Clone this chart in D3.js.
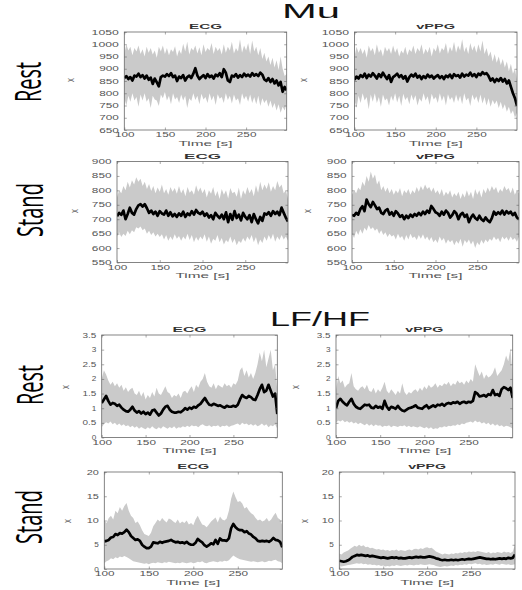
<!DOCTYPE html>
<html><head><meta charset="utf-8">
<script src="https://cdn.jsdelivr.net/npm/d3@7"></script>
<style>body{margin:0;background:#fff}svg{display:block}</style>
</head><body>
<svg id="c" width="522" height="590"></svg>
<script>
// ---------- data ----------
const timeDomain = [100, 300];
const xTicks = [100, 150, 200, 250];
const muRestTicks = [650, 700, 750, 800, 850, 900, 950, 1000, 1050];
const muStandTicks = [550, 600, 650, 700, 750, 800, 850, 900];
const lfRestTicks = [0, 0.5, 1, 1.5, 2, 2.5, 3, 3.5];
const lfStandTicks = [0, 5, 10, 15, 20];
const sectionTitles = ["Mu", "LF/HF"];
const rowLabels = ["Rest", "Stand"];
const signalTitles = ["ECG", "vPPG"];
const xLabel = "Time [s]";
const yLabel = "x";

// Mu, Rest, ECG
const muRestEcgMean = [862,870,858,866,852,872,868,880,866,874,
860,872,855,864,838,860,845,828,866,872,
868,878,870,882,866,872,850,868,862,874,
852,866,872,862,880,902,872,858,866,874,
862,878,866,872,860,876,870,882,866,898,
884,852,846,872,868,878,864,874,866,880,
870,876,868,882,872,878,870,884,876,856,
850,862,846,858,840,852,832,846,806,826,
812];
const muRestEcgUpper = [960,1000,975,990,955,985,970,995,960,980,
950,990,965,985,958,975,945,990,970,995,
960,985,955,980,968,992,950,978,960,1002,
970,1010,958,985,975,995,962,988,955,1000,
968,985,975,1005,960,990,972,985,958,1000,
965,990,975,1010,962,985,970,1020,965,995,
975,1005,960,1015,970,990,955,985,940,965,
930,950,915,945,905,935,895,950,900,870,
880];
const muRestEcgLower = [780,750,790,765,800,770,785,745,795,770,
800,765,780,740,790,775,770,748,795,780,
805,770,790,755,800,775,785,760,795,770,
790,740,780,768,800,772,790,755,798,775,
785,760,800,770,790,752,796,778,785,760,
800,772,790,758,795,770,780,752,800,775,
790,765,795,760,785,755,790,748,780,760,
775,745,770,740,760,730,755,720,745,730,
760];
// Mu, Rest, vPPG
const muRestPpgMean = [855,868,860,874,866,880,862,876,868,882,
872,860,878,866,884,870,858,874,846,866,
872,880,866,874,860,870,848,866,876,868,
880,864,872,858,870,862,876,866,872,860,
868,874,862,870,858,872,866,876,862,878,
870,874,864,880,868,876,872,884,870,878,
866,880,874,886,878,882,870,852,860,846,
858,850,862,848,858,840,852,826,800,780,
748];
const muRestPpgUpper = [950,990,965,985,960,980,945,995,970,985,
955,1000,965,980,950,990,970,985,960,995,
965,985,950,975,962,990,955,980,968,995,
960,985,970,1000,958,982,965,990,950,985,
970,1000,962,985,975,1005,960,990,970,1010,
965,995,975,1020,968,990,960,1005,975,995,
965,1000,970,1015,960,985,950,970,930,960,
925,950,915,940,905,930,890,920,880,900,
850];
const muRestPpgLower = [770,740,790,760,800,770,785,735,795,765,
800,760,785,745,795,770,780,750,790,768,
800,762,790,748,798,772,785,755,795,770,
792,750,780,765,800,770,788,752,798,775,
785,760,800,768,790,750,796,772,785,760,
795,765,790,755,800,770,782,748,795,772,
788,760,795,758,785,750,780,745,772,755,
770,740,765,735,755,725,745,715,730,700,
720];
// Mu, Stand, ECG
const muStandEcgMean = [710,722,715,730,700,718,740,722,716,735,
748,752,744,752,738,722,730,718,726,712,
728,720,716,730,712,724,710,718,708,720,
712,726,708,720,714,728,716,732,722,718,
726,712,720,706,714,700,722,712,704,716,
700,724,690,718,698,728,704,716,696,722,
708,700,714,690,718,700,686,708,694,720,
716,724,712,728,718,726,714,740,722,705,
692];
const muStandEcgUpper = [775,800,790,815,800,830,810,835,820,845,
830,840,815,830,805,822,798,815,790,810,
795,820,790,805,785,812,795,808,788,815,
790,805,780,812,792,800,785,818,795,810,
790,805,775,800,788,812,780,798,770,805,
785,800,772,808,790,795,778,810,770,800,
785,812,790,805,780,818,792,830,800,820,
805,828,795,815,800,832,810,820,790,800,
770];
const muStandEcgLower = [640,655,638,650,642,660,648,662,655,672,
668,675,662,668,650,660,645,655,640,650,
638,648,630,645,625,640,628,648,632,642,
625,640,630,650,628,645,620,638,625,640,
630,648,622,640,615,632,625,645,620,635,
612,628,620,640,618,632,610,625,618,635,
622,640,628,645,620,638,610,630,618,640,
625,645,630,650,622,640,628,645,630,640,
625];
// Mu, Stand, vPPG
const muStandPpgMean = [715,712,722,716,735,745,728,768,752,742,
760,748,735,740,722,718,730,735,716,724,
712,728,720,708,714,700,712,704,716,708,
718,712,722,714,726,718,730,722,746,736,
724,720,712,726,716,730,722,706,714,728,
720,700,716,722,708,716,690,706,716,704,
698,712,700,694,706,696,690,704,726,716,
724,718,730,716,728,720,726,714,722,706,
700];
const muStandPpgUpper = [785,800,790,810,800,830,815,850,830,865,
840,855,820,835,800,815,795,810,790,805,
785,800,790,808,780,800,790,805,785,800,
790,812,795,815,800,820,805,812,795,810,
790,800,785,805,780,795,785,800,775,790,
780,795,770,790,775,800,780,795,770,805,
785,800,775,805,790,810,795,815,800,812,
790,805,795,815,800,808,790,810,785,800,
790];
const muStandPpgLower = [650,635,660,645,665,650,670,660,680,665,
672,660,668,650,662,645,655,638,650,640,
645,630,650,635,642,625,645,630,650,635,
640,628,645,632,648,630,640,625,638,620,
630,618,640,625,635,615,630,620,628,610,
625,615,632,605,628,618,630,612,625,600,
620,610,628,615,630,620,632,625,640,628,
635,620,640,630,638,625,640,628,635,622,
640];
// LF/HF, Rest, ECG
const lfRestEcgMean = [1.18,1.30,1.42,1.25,1.12,1.18,1.15,1.08,1.12,1.02,
0.95,0.90,0.88,0.95,1.05,0.92,0.85,0.90,0.82,0.88,
0.80,0.85,0.78,0.92,0.95,0.85,0.75,0.82,0.95,1.05,
1.08,0.95,0.88,0.85,0.85,0.88,0.86,0.92,1.00,0.95,
1.02,0.98,1.05,1.02,1.10,1.15,1.25,1.35,1.22,1.12,
1.10,1.15,1.12,1.08,1.10,1.05,1.02,1.08,1.05,1.05,
1.08,1.05,1.12,1.30,1.45,1.38,1.35,1.42,1.38,1.30,
1.28,1.45,1.65,1.80,1.55,1.60,1.80,1.60,1.40,1.50,
0.80];
const lfRestEcgUpper = [2.00,2.30,2.15,1.95,1.80,1.90,1.75,1.85,1.70,1.80,
1.60,1.72,1.55,1.65,1.70,1.50,1.45,1.60,1.40,1.55,
1.30,1.45,1.35,1.55,1.40,1.70,1.50,1.45,1.60,1.75,
1.55,1.50,1.35,1.45,1.40,1.50,1.35,1.55,1.60,1.50,
1.65,1.75,1.55,1.80,1.70,1.90,2.00,2.20,1.90,1.75,
1.70,1.85,1.65,1.80,1.75,1.70,1.85,1.75,1.80,1.70,
1.85,1.80,1.95,2.30,2.40,2.10,2.30,2.05,2.20,2.00,
2.20,2.50,2.90,2.60,3.00,2.40,2.70,3.00,2.30,2.50,
1.60];
const lfRestEcgLower = [0.35,0.45,0.52,0.48,0.55,0.45,0.50,0.42,0.48,0.40,
0.45,0.38,0.42,0.35,0.40,0.33,0.38,0.30,0.36,0.32,
0.28,0.35,0.30,0.38,0.32,0.28,0.35,0.30,0.38,0.34,
0.30,0.36,0.32,0.38,0.30,0.35,0.33,0.38,0.35,0.40,
0.36,0.42,0.38,0.40,0.35,0.42,0.45,0.40,0.38,0.42,
0.36,0.40,0.38,0.42,0.35,0.40,0.38,0.42,0.36,0.40,
0.42,0.45,0.48,0.42,0.50,0.45,0.48,0.42,0.46,0.40,
0.45,0.38,0.42,0.48,0.40,0.45,0.35,0.42,0.38,0.45,
0.30];
// LF/HF, Rest, vPPG
const lfRestPpgMean = [1.00,1.25,1.32,1.22,1.15,1.10,1.22,1.32,1.15,1.05,
1.00,0.98,1.05,1.12,1.10,1.12,1.02,1.00,1.08,1.02,
1.05,0.98,1.25,1.05,0.95,1.05,1.02,0.98,1.08,0.98,
0.92,0.90,0.95,1.00,1.02,1.05,1.10,1.02,1.00,0.98,
1.05,1.10,1.00,1.05,1.10,1.05,1.12,1.10,1.15,1.08,
1.15,1.18,1.15,1.20,1.18,1.22,1.15,1.20,1.22,1.18,
1.22,1.20,1.25,1.55,1.50,1.40,1.42,1.45,1.40,1.48,
1.45,1.62,1.45,1.48,1.42,1.65,1.72,1.68,1.62,1.70,
1.35];
const lfRestPpgUpper = [1.60,2.10,1.85,1.95,1.70,1.80,1.85,2.20,1.75,1.65,
1.60,1.70,1.75,1.65,1.80,1.60,1.55,1.70,1.50,1.65,
1.55,1.70,1.90,1.60,1.50,1.65,1.55,1.45,1.60,1.50,
1.85,1.55,1.45,1.55,1.50,1.60,1.65,1.55,1.70,1.60,
1.75,1.65,1.80,1.70,1.75,1.85,1.70,1.80,1.75,1.85,
1.80,1.90,1.75,1.85,1.80,1.95,1.85,1.90,1.80,1.95,
1.85,2.00,1.90,2.50,2.30,2.10,2.25,2.00,2.15,2.05,
2.10,2.20,2.40,2.10,2.20,2.30,2.50,2.80,2.60,3.05,
2.00];
const lfRestPpgLower = [0.50,0.58,0.55,0.60,0.52,0.56,0.50,0.55,0.48,0.52,
0.45,0.50,0.46,0.42,0.48,0.40,0.45,0.38,0.44,0.40,
0.42,0.36,0.40,0.38,0.42,0.35,0.40,0.38,0.36,0.40,
0.38,0.42,0.36,0.40,0.35,0.38,0.36,0.34,0.38,0.35,
0.32,0.36,0.30,0.35,0.28,0.32,0.30,0.36,0.34,0.38,
0.36,0.40,0.38,0.42,0.40,0.45,0.42,0.48,0.45,0.50,
0.52,0.55,0.50,0.58,0.52,0.55,0.48,0.52,0.45,0.50,
0.42,0.48,0.40,0.45,0.38,0.42,0.36,0.40,0.38,0.35,
0.30];
// LF/HF, Stand, ECG
const lfStandEcgMean = [5.7,5.8,6.0,6.5,6.6,7.2,7.0,7.4,7.3,7.6,
8.1,7.6,6.8,6.4,6.0,6.1,5.8,5.0,4.6,4.3,
4.3,4.6,5.5,5.4,5.3,5.6,5.4,5.6,5.7,5.8,
6.0,5.7,5.5,5.6,5.4,5.5,5.3,5.6,5.2,5.0,
5.0,5.4,6.2,5.8,5.5,4.9,4.6,4.9,5.3,5.1,
6.0,5.2,6.3,5.9,5.9,5.8,6.3,8.4,9.3,8.6,
8.2,8.0,8.0,7.6,7.8,7.3,7.1,6.6,6.3,5.8,
5.7,5.8,5.7,5.8,5.6,5.9,6.4,6.0,5.9,5.6,
4.5];
const lfStandEcgUpper = [10.0,9.5,10.5,11.0,10.2,12.0,11.5,12.8,12.0,13.0,
13.6,12.0,11.0,10.5,9.5,9.8,9.0,8.0,7.2,7.0,
6.8,7.5,8.8,9.5,10.2,9.8,10.5,10.0,9.6,10.4,
10.2,9.8,9.5,10.2,9.4,9.8,9.5,10.0,9.2,9.5,
9.0,10.2,11.0,10.0,9.2,9.0,8.6,9.2,9.8,10.2,
10.6,9.6,10.8,10.2,10.0,10.4,12.0,14.5,16.0,14.8,
13.8,14.0,13.5,12.5,12.8,12.0,11.5,11.2,10.5,10.0,
10.2,9.8,10.0,10.5,9.8,10.2,11.0,11.6,10.5,10.2,
9.0];
const lfStandEcgLower = [1.2,1.6,1.8,2.2,2.0,2.4,2.2,2.6,2.4,2.7,
2.5,2.2,1.9,1.6,1.5,1.4,1.3,1.2,1.1,1.2,
1.0,1.2,1.3,1.2,1.4,1.3,1.2,1.4,1.3,1.5,
1.4,1.3,1.2,1.3,1.2,1.4,1.3,1.2,1.3,1.4,
1.2,1.3,1.5,1.4,1.6,1.3,1.2,1.4,1.5,1.6,
1.5,1.4,1.6,1.5,1.7,1.6,1.8,2.3,2.8,2.5,
2.2,2.0,1.9,1.8,1.7,1.6,1.5,1.6,1.5,1.4,
1.5,1.6,1.4,1.5,1.7,1.6,1.8,1.9,1.6,1.5,
1.2];
// LF/HF, Stand, vPPG
const lfStandPpgMean = [1.7,1.6,1.5,1.6,1.8,2.1,2.5,2.7,2.9,2.8,
2.9,2.8,2.7,2.8,2.6,2.7,2.6,2.5,2.4,2.3,
2.4,2.3,2.2,2.3,2.4,2.3,2.4,2.2,2.3,2.2,
2.2,2.3,2.4,2.3,2.4,2.5,2.4,2.5,2.4,2.4,
2.5,2.6,2.5,2.4,2.2,2.1,1.9,1.8,1.9,1.8,
1.8,1.9,1.8,1.9,1.8,1.9,2.0,1.9,2.0,2.1,
2.0,2.1,2.2,2.3,2.4,2.3,2.2,2.1,2.1,2.0,
2.1,2.0,2.1,2.2,2.1,2.2,2.1,2.3,2.2,2.3,
3.0];
const lfStandPpgUpper = [3.2,3.0,3.4,3.6,3.8,4.2,4.5,4.8,4.6,5.0,
4.7,4.9,4.5,4.6,4.3,4.4,4.2,4.0,4.1,3.9,
4.0,3.8,3.9,3.7,3.9,3.8,4.0,3.7,3.9,3.8,
3.7,3.9,4.0,3.8,4.1,4.2,4.0,4.3,4.1,4.4,
4.5,4.3,4.4,4.0,3.6,3.4,3.2,3.0,3.2,3.1,
3.0,3.2,3.1,3.3,3.2,3.4,3.3,3.5,3.4,3.6,
3.5,3.6,3.5,3.7,3.6,3.5,3.4,3.3,3.5,3.2,
3.4,3.3,3.5,3.4,3.3,3.6,3.4,3.5,3.3,3.6,
5.0];
const lfStandPpgLower = [0.6,0.5,0.6,0.7,0.8,0.9,1.0,1.1,1.2,1.1,
1.2,1.0,1.1,0.9,1.0,0.8,0.9,0.7,0.8,0.6,
0.7,0.5,0.6,0.5,0.7,0.6,0.8,0.7,0.6,0.7,
0.8,0.7,0.9,0.8,0.7,0.9,0.8,1.0,0.9,0.8,
0.9,1.0,0.9,0.8,0.6,0.5,0.4,0.5,0.6,0.5,
0.6,0.7,0.6,0.8,0.7,0.9,0.8,1.0,0.9,1.1,
1.0,1.1,1.2,1.0,1.1,0.9,1.0,0.8,0.9,1.0,
0.9,1.1,1.0,0.9,1.1,1.0,0.9,1.0,0.8,0.9,
1.0];

// ---------- layout ----------
const FONT = "'Liberation Sans', Arial, Helvetica, sans-serif";
const svg = d3.select('#c');

const panels = [
  {mean: muRestEcgMean, up: muRestEcgUpper, lo: muRestEcgLower, ticks: muRestTicks, title: signalTitles[0], box: [124.3, 286.7, 32, 130], titleW: 33, ylab: [74, 80]},
  {mean: muRestPpgMean, up: muRestPpgUpper, lo: muRestPpgLower, ticks: muRestTicks, title: signalTitles[1], box: [354.5, 517, 32, 130], titleW: 39, ylab: [306.5, 80]},
  {mean: muStandEcgMean, up: muStandEcgUpper, lo: muStandEcgLower, ticks: muStandTicks, title: signalTitles[0], box: [117, 288, 161.5, 262.5], titleW: 37, ylab: [77.5, 211]},
  {mean: muStandPpgMean, up: muStandPpgUpper, lo: muStandPpgLower, ticks: muStandTicks, title: signalTitles[1], box: [352, 519, 161.5, 262.5], titleW: 39, ylab: [310.5, 211]},
  {mean: lfRestEcgMean, up: lfRestEcgUpper, lo: lfRestEcgLower, ticks: lfRestTicks, title: signalTitles[0], box: [101.7, 277.3, 335, 437.5], titleW: 34, ylab: [68.5, 387]},
  {mean: lfRestPpgMean, up: lfRestPpgUpper, lo: lfRestPpgLower, ticks: lfRestTicks, title: signalTitles[1], box: [336, 512.7, 335, 437.5], titleW: 38, ylab: [299, 387]},
  {mean: lfStandEcgMean, up: lfStandEcgUpper, lo: lfStandEcgLower, ticks: lfStandTicks, title: signalTitles[0], box: [104.3, 282.3, 472, 569], titleW: 32, ylab: [70.7, 521]},
  {mean: lfStandPpgMean, up: lfStandPpgUpper, lo: lfStandPpgLower, ticks: lfStandTicks, title: signalTitles[1], box: [339.3, 515, 472, 569], titleW: 38, ylab: [307.5, 521]}
];

function stretchTick(sel) {
  sel.each(function () {
    const s = this.textContent;
    if (!s) return;
    const w = this.getComputedTextLength();
    const gap = s.includes('.') ? 1.2 : 3;
    d3.select(this).attr('textLength', w * 1.3 + (s.length - 1) * gap).attr('lengthAdjust', 'spacingAndGlyphs');
  });
}

panels.forEach((p, k) => {
  const [x0, x1, y0, y1] = p.box;
  const x = d3.scaleLinear().domain(timeDomain).range([x0, x1]);
  const y = d3.scaleLinear().domain(d3.extent(p.ticks)).range([y1, y0]);
  const g = svg.append('g');
  const cid = 'clip' + k;
  svg.append('clipPath').attr('id', cid).append('rect')
    .attr('x', x0).attr('y', y0).attr('width', x1 - x0).attr('height', y1 - y0);

  const n = Math.min(p.up.length, p.lo.length);
  const tb = i => timeDomain[0] + i * (timeDomain[1] - timeDomain[0]) / (n - 1);
  const area = d3.area().x(i => x(tb(i))).y0(i => y(p.lo[i])).y1(i => y(p.up[i]));
  g.append('path').attr('clip-path', `url(#${cid})`).datum(d3.range(n))
    .attr('d', area).attr('fill', '#cacaca');

  const m = p.mean.length;
  const line = d3.line()
    .x((d, i) => x(timeDomain[0] + i * (timeDomain[1] - timeDomain[0]) / (m - 1)))
    .y(d => y(d));
  g.append('path').attr('clip-path', `url(#${cid})`).datum(p.mean)
    .attr('d', line).attr('fill', 'none').attr('stroke', '#000')
    .attr('stroke-width', 2.7).attr('stroke-linejoin', 'round');

  const fmt = d => String(d);
  const bottom = g.append('g').attr('transform', `translate(0,${y1})`)
    .call(d3.axisBottom(x).tickValues(xTicks).tickSizeInner(-2.5).tickSizeOuter(0).tickPadding(2.9).tickFormat(fmt));
  const left = g.append('g').attr('transform', `translate(${x0},0)`)
    .call(d3.axisLeft(y).tickValues(p.ticks).tickSizeInner(-2.5).tickSizeOuter(0).tickPadding(5.5).tickFormat(fmt));
  g.append('g').attr('transform', `translate(0,${y0})`)
    .call(d3.axisTop(x).tickValues(xTicks).tickSizeInner(-2.5).tickSizeOuter(0).tickFormat(''));
  g.append('g').attr('transform', `translate(${x1},0)`)
    .call(d3.axisRight(y).tickValues(p.ticks).tickSizeInner(-2.5).tickSizeOuter(0).tickFormat(''));
  g.selectAll('.domain').remove();
  g.selectAll('.tick line').attr('stroke', '#555').attr('stroke-width', 0.5);
  g.selectAll('g').attr('font-family', FONT).attr('font-size', 6.3);
  g.selectAll('.tick text').attr('fill', '#555');
  stretchTick(bottom.selectAll('.tick text'));
  stretchTick(left.selectAll('.tick text'));

  g.append('rect').attr('x', x0).attr('y', y0).attr('width', x1 - x0).attr('height', y1 - y0)
    .attr('fill', 'none').attr('stroke', '#666').attr('stroke-width', 0.8);

  // panel title
  g.append('text').attr('x', (x0 + x1) / 2).attr('y', y0 - 3).attr('text-anchor', 'middle')
    .attr('font-family', FONT).attr('font-weight', 'bold').attr('font-size', 6.3).attr('fill', '#333')
    .attr('textLength', p.titleW).attr('lengthAdjust', 'spacingAndGlyphs').text(p.title);
  // x label
  g.append('text').attr('x', (x0 + x1) / 2).attr('y', y1 + 15.5).attr('text-anchor', 'middle')
    .attr('font-family', FONT).attr('font-size', 8).attr('fill', '#555')
    .attr('textLength', 54).attr('lengthAdjust', 'spacingAndGlyphs').text(xLabel);
  // y label
  g.append('text').attr('transform', `translate(${p.ylab[0]},${p.ylab[1]}) rotate(-90)`)
    .attr('text-anchor', 'middle').attr('font-family', FONT).attr('font-size', 11).attr('fill', '#555')
    .attr('textLength', 3.8).attr('lengthAdjust', 'spacingAndGlyphs').text(yLabel);
});

// section titles
const secPos = [[311, 18.3, 58], [320, 325.5, 100]];
sectionTitles.forEach((t, i) => {
  svg.append('text').attr('x', secPos[i][0]).attr('y', secPos[i][1]).attr('text-anchor', 'middle')
    .attr('font-family', FONT).attr('font-size', 21).attr('fill', '#111')
    .attr('textLength', secPos[i][2]).attr('lengthAdjust', 'spacingAndGlyphs').text(t);
});

// row labels
const rowPos = [[41, 82, 0], [43, 210, 1], [43, 385, 0], [42, 517, 1]];
const rowLen = [40, 54];
rowPos.forEach(([rx, ry, r]) => {
  svg.append('text').attr('transform', `translate(${rx},${ry}) rotate(-90)`).attr('text-anchor', 'middle')
    .attr('font-family', "'Open Sans', 'Liberation Sans', sans-serif").attr('font-size', 36).attr('fill', '#000')
    .attr('textLength', rowLen[r]).attr('lengthAdjust', 'spacingAndGlyphs').text(rowLabels[r]);
});
</script>
</body></html>
